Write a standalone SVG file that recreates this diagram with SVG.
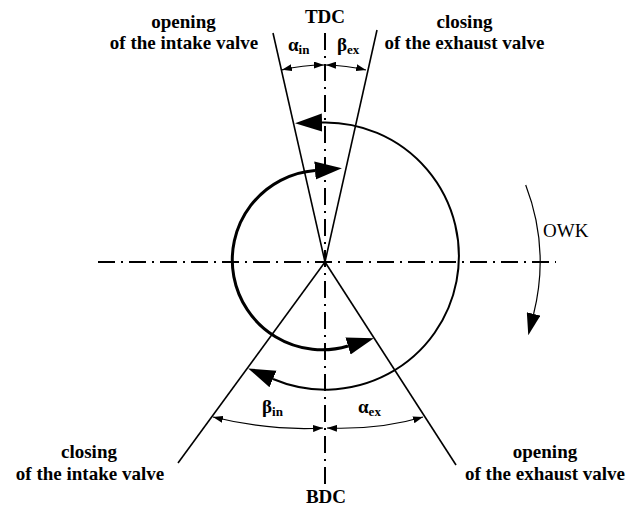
<svg xmlns="http://www.w3.org/2000/svg" width="627" height="506" viewBox="0 0 627 506">
<style>
.axis{fill:none;stroke:#000;stroke-width:2;stroke-dasharray:17 6 2 6}
.ray{fill:none;stroke:#000;stroke-width:1.6}
.dim{fill:none;stroke:#000;stroke-width:1.2;marker-start:url(#dimA);marker-end:url(#dimA)}
.lbl{font-family:"Liberation Serif","Times New Roman",serif;font-weight:bold;font-size:19px;fill:#000;text-anchor:middle}
.greek{font-family:"Liberation Serif","Times New Roman",serif;font-weight:bold;font-size:19px;fill:#000}
.sub{font-size:13px}
</style>
<defs>
<marker id="big" markerUnits="userSpaceOnUse" markerWidth="28" markerHeight="20" viewBox="0 0 28 20" refX="0" refY="10" orient="auto-start-reverse">
<path d="M0,1 L27,10 L0,19 z" fill="#000"/>
</marker>
<marker id="dimA" markerUnits="userSpaceOnUse" markerWidth="10" markerHeight="7" viewBox="0 0 10 7" refX="10" refY="3.5" orient="auto-start-reverse">
<path d="M0,0 L10,3.5 L0,7 z" fill="#000"/>
</marker>
<marker id="owkA" markerUnits="userSpaceOnUse" markerWidth="22" markerHeight="14" viewBox="0 0 22 14" refX="0" refY="7" orient="auto">
<path d="M0,0 L22,7 L0,14 z" fill="#000"/>
</marker>
</defs>
<rect width="627" height="506" fill="#fff"/>
<g id="axes">
<line class="axis" x1="98" y1="262" x2="556" y2="262"/>
<line class="axis" x1="325" y1="33" x2="325" y2="484"/>
</g>
<g id="rays">
<line class="ray" x1="325" y1="262" x2="273" y2="33"/>
<line class="ray" x1="325" y1="262" x2="377" y2="30"/>
<line class="ray" x1="325" y1="262" x2="178" y2="463"/>
<line class="ray" x1="325" y1="262" x2="456" y2="465"/>
</g>
<g id="connectors">
<path d="M322,122.5 A133.6,133.6 0 1 1 273,379" fill="none" stroke="#000" stroke-width="2" marker-start="url(#big)" marker-end="url(#big)"/>
<path d="M315,170.5 A89.8,89.8 0 1 0 348,346" fill="none" stroke="#000" stroke-width="3" marker-start="url(#big)" marker-end="url(#big)"/>
<path class="dim" d="M282,69.8 A197,197 0 0 1 324,65"/>
<path class="dim" d="M326,65 A197,197 0 0 1 366,70"/>
<path class="dim" d="M213,417 Q270,431 323,428"/>
<path class="dim" d="M327,428 Q380,430 423,417"/>
<path d="M525.7,185 A215,215 0 0 1 533.6,314" fill="none" stroke="#000" stroke-width="1.2" marker-end="url(#owkA)"/>
</g>
<g id="tdc"><text class="lbl" x="325" y="23" font-size="18">TDC</text></g>
<g id="bdc"><text class="lbl" x="326" y="503" font-size="18">BDC</text></g>
<g id="intake-open"><text class="lbl" x="183.5" y="28">opening</text><text class="lbl" x="184" y="49">of the intake valve</text></g>
<g id="exhaust-close"><text class="lbl" x="464.5" y="28">closing</text><text class="lbl" x="464.5" y="49">of the exhaust valve</text></g>
<g id="intake-close"><text class="lbl" x="89" y="458">closing</text><text class="lbl" x="90" y="480">of the intake valve</text></g>
<g id="exhaust-open"><text class="lbl" x="545" y="458">opening</text><text class="lbl" x="545" y="480">of the exhaust valve</text></g>
<g id="angles">
<text class="greek" x="288" y="51">α<tspan class="sub" dy="3">in</tspan></text>
<text class="greek" x="337" y="51">β<tspan class="sub" dy="3">ex</tspan></text>
<text class="greek" x="262" y="413">β<tspan class="sub" dy="3">in</tspan></text>
<text class="greek" x="358" y="413">α<tspan class="sub" dy="3">ex</tspan></text>
</g>
<g id="owk"><text x="543" y="237" font-family="'Liberation Serif','Times New Roman',serif" font-size="19" fill="#000">OWK</text></g>
</svg>
